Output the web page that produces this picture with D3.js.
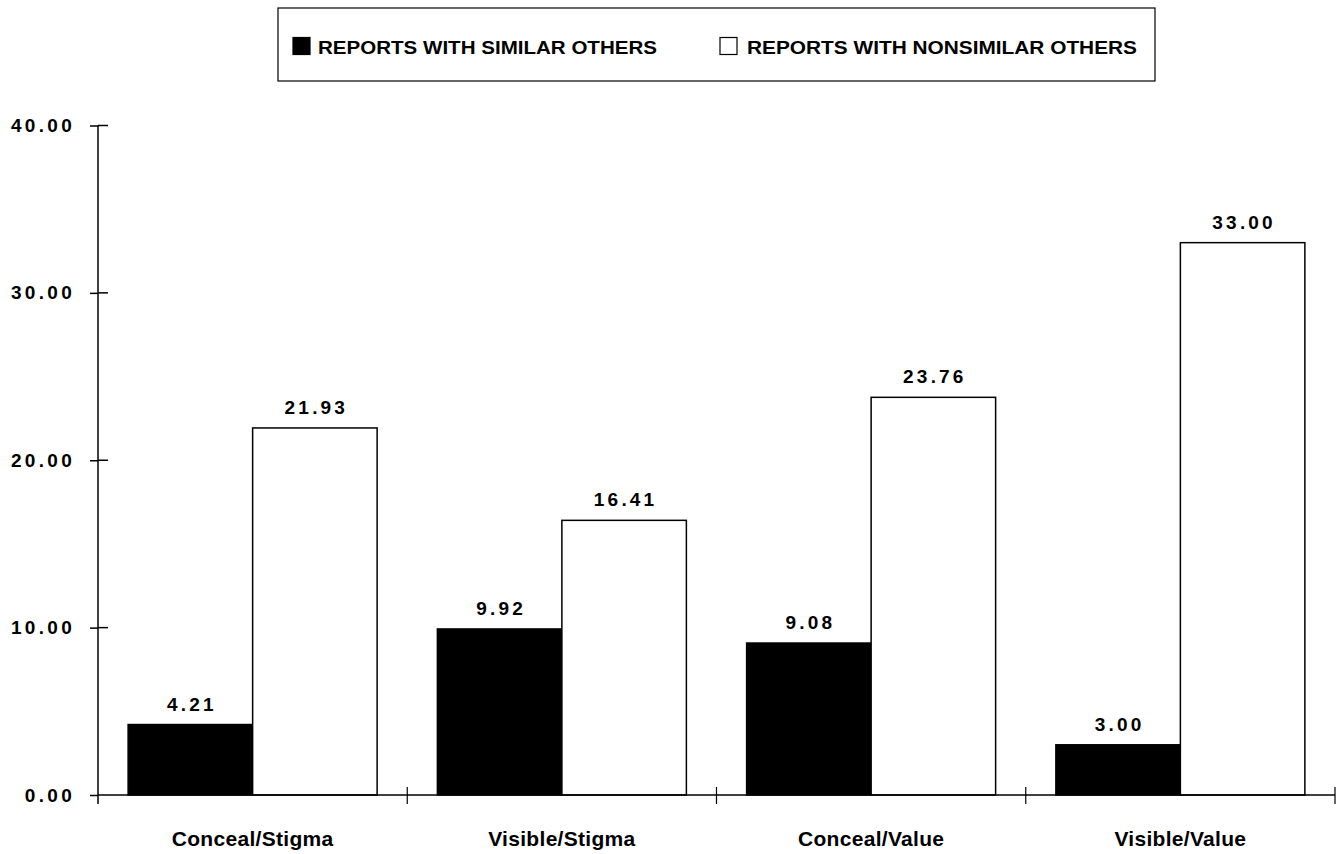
<!DOCTYPE html>
<html>
<head>
<meta charset="utf-8">
<script src="https://cdn.jsdelivr.net/npm/d3@7"></script>
<style>
  html, body { margin: 0; padding: 0; background: #fff; }
  svg { display: block; }
  text { font-family: "Liberation Sans", Arial, Helvetica, sans-serif; font-weight: bold; fill: #000; }
</style>
</head>
<body>
<svg id="chart" width="1337" height="854"></svg>
<script>
// Categories and series
const categories = ["Conceal/Stigma", "Visible/Stigma", "Conceal/Value", "Visible/Value"];
const seriesNames = ["REPORTS WITH SIMILAR OTHERS", "REPORTS WITH NONSIMILAR OTHERS"];
const similarValues = [4.21, 9.92, 9.08, 3.00];
const nonsimilarValues = [21.93, 16.41, 23.76, 33.00];
const yTicks = [0, 10, 20, 30, 40];
const seriesFill = ["#000000", "#ffffff"];

const rows = categories.map((c, i) => ({
  category: c,
  values: [
    { series: seriesNames[0], value: similarValues[i] },
    { series: seriesNames[1], value: nonsimilarValues[i] }
  ]
}));

const svg = d3.select("#chart");
const plotLeft = 98, plotRight = 1335, plotTop = 125.5, plotBottom = 795;

const x0 = d3.scaleBand().domain(categories).range([plotLeft, plotRight]).paddingInner(0).paddingOuter(0);
const x1 = d3.scaleBand().domain(seriesNames).range([0, x0.bandwidth()]).paddingInner(0).paddingOuter(0.242);
const y = d3.scaleLinear().domain([0, 40]).range([plotBottom, plotTop]);
const color = d3.scaleOrdinal().domain(seriesNames).range(seriesFill);

// Bars
const groups = svg.append("g").selectAll("g")
  .data(rows).join("g")
  .attr("transform", d => `translate(${x0(d.category)},0)`);

groups.selectAll("rect")
  .data(d => d.values).join("rect")
  .attr("x", d => x1(d.series))
  .attr("y", d => y(d.value))
  .attr("width", x1.bandwidth())
  .attr("height", d => y(0) - y(d.value))
  .attr("fill", d => color(d.series))
  .attr("stroke", "#000")
  .attr("stroke-width", 1.5);

// Value labels above bars
groups.selectAll("text.value")
  .data(d => d.values).join("text")
  .attr("class", "value")
  .attr("x", d => x1(d.series) + x1.bandwidth() / 2 + 1.5)
  .attr("y", d => y(d.value) - 14)
  .attr("text-anchor", "middle")
  .attr("font-size", 19)
  .attr("letter-spacing", 3.2)
  .text(d => d.value.toFixed(2));

// Y axis
const yAxis = d3.axisLeft(y).tickValues(yTicks).tickFormat(d3.format(".2f")).tickSize(8).tickPadding(15);
const yg = svg.append("g").attr("transform", `translate(${plotLeft},0)`).call(yAxis);
yg.select(".domain").remove();
yg.selectAll(".tick line").attr("stroke", "#000").attr("stroke-width", 1.5);
yg.selectAll(".tick text")
  .attr("font-size", 19)
  .attr("letter-spacing", 3.3)
  .attr("font-family", "\"Liberation Sans\", Arial, sans-serif")
  .attr("font-weight", "bold")
  .attr("fill", "#000");
// tick marks crossing into the plot (above zero)
svg.append("g").selectAll("line")
  .data(yTicks.filter(t => t > 0)).join("line")
  .attr("x1", plotLeft).attr("x2", plotLeft + 10)
  .attr("y1", d => y(d)).attr("y2", d => y(d))
  .attr("stroke", "#000").attr("stroke-width", 1.5);
svg.append("line")
  .attr("x1", plotLeft).attr("x2", plotLeft)
  .attr("y1", y(40)).attr("y2", plotBottom + 9)
  .attr("stroke", "#000").attr("stroke-width", 1.5);

// X axis
svg.append("line")
  .attr("x1", plotLeft).attr("x2", plotRight)
  .attr("y1", plotBottom).attr("y2", plotBottom)
  .attr("stroke", "#000").attr("stroke-width", 1.5);
svg.append("g").selectAll("line")
  .data(categories).join("line")
  .attr("x1", d => x0(d) + x0.bandwidth()).attr("x2", d => x0(d) + x0.bandwidth())
  .attr("y1", plotBottom - 8).attr("y2", plotBottom + 9)
  .attr("stroke", "#000").attr("stroke-width", 1.2);
svg.append("g").selectAll("text")
  .data(categories).join("text")
  .attr("x", d => x0(d) + x0.bandwidth() / 2)
  .attr("y", 846)
  .attr("text-anchor", "middle")
  .attr("font-size", 21)
  .attr("letter-spacing", 0.3)
  .text(d => d);

// Legend
const legend = svg.append("g");
legend.append("rect")
  .attr("x", 278).attr("y", 8).attr("width", 877).attr("height", 73)
  .attr("fill", "#fff").attr("stroke", "#000").attr("stroke-width", 1.2);
const legendItems = [
  { name: seriesNames[0], sx: 293, tx: 318, tw: 339 },
  { name: seriesNames[1], sx: 720, tx: 747, tw: 390 }
];
legendItems.forEach(it => {
  legend.append("rect")
    .attr("x", it.sx).attr("y", 37.5).attr("width", 17).attr("height", 17)
    .attr("fill", color(it.name)).attr("stroke", "#000").attr("stroke-width", 1.2);
  legend.append("text")
    .attr("x", it.tx).attr("y", 54)
    .attr("font-size", 18.5)
    .attr("textLength", it.tw)
    .attr("lengthAdjust", "spacingAndGlyphs")
    .text(it.name);
});
</script>
</body>
</html>
